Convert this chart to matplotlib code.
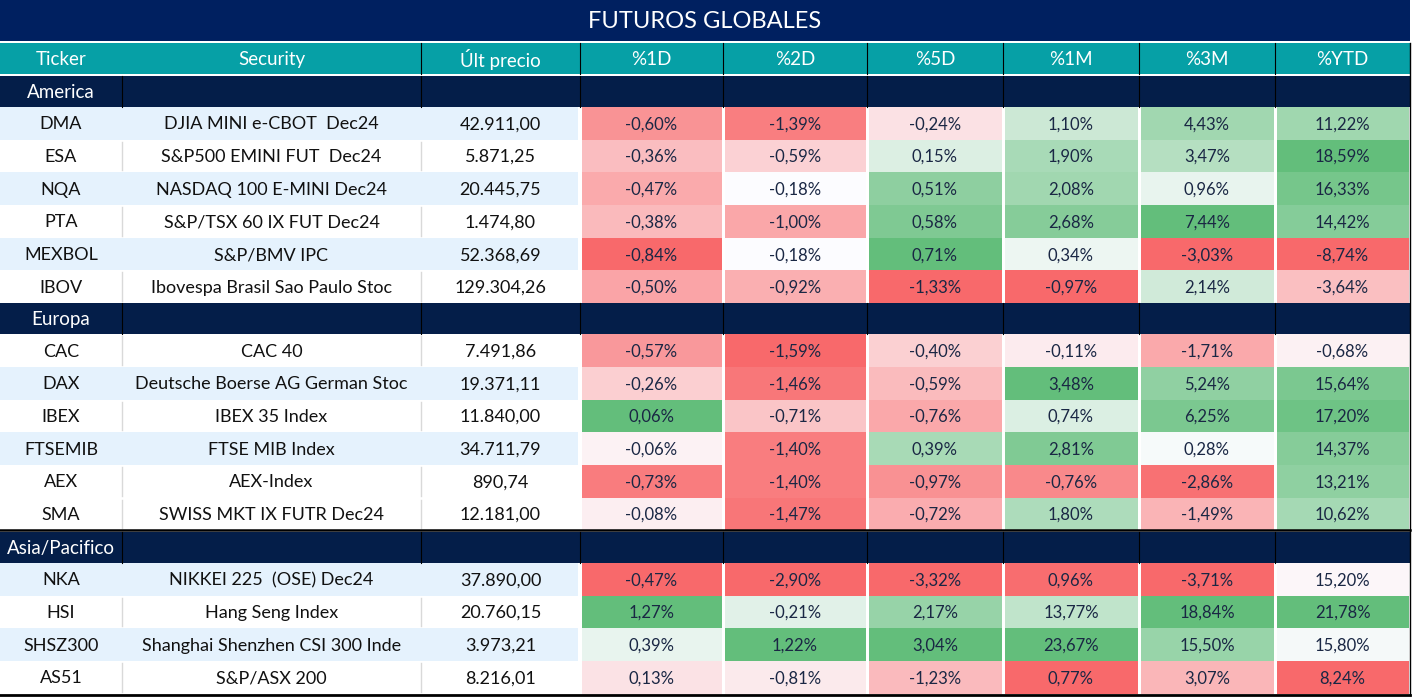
import matplotlib
matplotlib.use("Agg")
import matplotlib.pyplot as plt
from matplotlib.patches import Rectangle
import numpy as np

TITLE = "FUTUROS GLOBALES"
HEADERS = ["Ticker", "Security", "Últ precio", "%1D", "%2D", "%5D", "%1M", "%3M", "%YTD"]
GROUPS = ["America", "Europa", "Asia/Pacifico"]

america_tickers = ["DMA", "ESA", "NQA", "PTA", "MEXBOL", "IBOV"]
america_names = ["DJIA MINI e-CBOT  Dec24", "S&P500 EMINI FUT  Dec24", "NASDAQ 100 E-MINI Dec24",
                 "S&P/TSX 60 IX FUT Dec24", "S&P/BMV IPC", "Ibovespa Brasil Sao Paulo Stoc"]
america_price = [42911.00, 5871.25, 20445.75, 1474.80, 52368.69, 129304.26]
america_chg = [[-0.60, -1.39, -0.24, 1.10, 4.43, 11.22],
               [-0.36, -0.59, 0.15, 1.90, 3.47, 18.59],
               [-0.47, -0.18, 0.51, 2.08, 0.96, 16.33],
               [-0.38, -1.00, 0.58, 2.68, 7.44, 14.42],
               [-0.84, -0.18, 0.71, 0.34, -3.03, -8.74],
               [-0.50, -0.92, -1.33, -0.97, 2.14, -3.64]]

europa_tickers = ["CAC", "DAX", "IBEX", "FTSEMIB", "AEX", "SMA"]
europa_names = ["CAC 40", "Deutsche Boerse AG German Stoc", "IBEX 35 Index",
                "FTSE MIB Index", "AEX-Index", "SWISS MKT IX FUTR Dec24"]
europa_price = [7491.86, 19371.11, 11840.00, 34711.79, 890.74, 12181.00]
europa_chg = [[-0.57, -1.59, -0.40, -0.11, -1.71, -0.68],
              [-0.26, -1.46, -0.59, 3.48, 5.24, 15.64],
              [0.06, -0.71, -0.76, 0.74, 6.25, 17.20],
              [-0.06, -1.40, 0.39, 2.81, 0.28, 14.37],
              [-0.73, -1.40, -0.97, -0.76, -2.86, 13.21],
              [-0.08, -1.47, -0.72, 1.80, -1.49, 10.62]]

asia_tickers = ["NKA", "HSI", "SHSZ300", "AS51"]
asia_names = ["NIKKEI 225  (OSE) Dec24", "Hang Seng Index",
              "Shanghai Shenzhen CSI 300 Inde", "S&P/ASX 200"]
asia_price = [37890.00, 20760.15, 3973.21, 8216.01]
asia_chg = [[-0.47, -2.90, -3.32, 0.96, -3.71, 15.20],
            [1.27, -0.21, 2.17, 13.77, 18.84, 21.78],
            [0.39, 1.22, 3.04, 23.67, 15.50, 15.80],
            [0.13, -0.81, -1.23, 0.77, 3.07, 8.24]]

# filas con fondo celeste
SHADED = ["DMA", "NQA", "MEXBOL", "DAX", "FTSEMIB", "NKA", "SHSZ300"]

# escala de color 3 tonos (tipo Excel) calculada por bloque de grupos
SCALE_BLOCKS = [(["America", "Europa"], "zero"), (["Asia/Pacifico"], "median")]

data = {
    "America": (america_tickers, america_names, america_price, america_chg),
    "Europa": (europa_tickers, europa_names, europa_price, europa_chg),
    "Asia/Pacifico": (asia_tickers, asia_names, asia_price, asia_chg),
}

# --- estilo ---
NAVY = "#002060"
GROUP_BG = "#041E49"
TEAL = "#06A0A6"
ROW_BLUE = "#E5F2FD"
TXT_VAL = "#1A2744"
RED = np.array([248, 105, 107]) / 255
WHITE = np.array([252, 252, 255]) / 255
GREEN = np.array([99, 190, 123]) / 255
FONT = "Lato"

COL_EDGES = [0, 122, 421, 580, 723, 867, 1003, 1139, 1275, 1410]
W, H = 1412, 697
TITLE_H, GAP, HEAD_H, GROUP_H, ROW_H = 41, 2, 31, 31, 32.7


def fmt_num(v, dec=2):
    s = f"{v:,.{dec}f}"
    return s.replace(",", "X").replace(".", ",").replace("X", ".")


def scale_color(v, lo, mid, hi):
    if v <= mid:
        t = 0.0 if mid == lo else (mid - v) / (mid - lo)
        c = WHITE + (RED - WHITE) * min(t, 1)
    else:
        t = 0.0 if hi == mid else (v - mid) / (hi - mid)
        c = WHITE + (GREEN - WHITE) * min(t, 1)
    return tuple(c)


# límites de escala por bloque y columna
limits = {}
for groups, rule in SCALE_BLOCKS:
    vals = np.vstack([np.array(data[g][3]) for g in groups])
    for j in range(vals.shape[1]):
        col = vals[:, j]
        lo, hi = col.min(), col.max()
        mid = float(np.clip(0.0, lo, hi)) if rule == "zero" else float(np.median(col))
        for g in groups:
            limits[(g, j)] = (lo, mid, hi)

fig = plt.figure(figsize=(W / 100, H / 100), dpi=100)
ax = fig.add_axes([0, 0, 1, 1])
ax.set_xlim(0, W)
ax.set_ylim(H, 0)
ax.axis("off")

x0, x1 = COL_EDGES[0], COL_EDGES[-1]
centers = [(a + b) / 2 for a, b in zip(COL_EDGES[:-1], COL_EDGES[1:])]

# título
ax.add_patch(Rectangle((x0, 0), x1 - x0, TITLE_H, color=NAVY, lw=0))
ax.text((x0 + x1) / 2, TITLE_H / 2 + 1, TITLE, color="white", fontsize=17,
        family=FONT, ha="center", va="center")

# encabezado
y = TITLE_H + GAP
ax.add_patch(Rectangle((x0, y), x1 - x0, HEAD_H, color=TEAL, lw=0))
for c, h in zip(centers, HEADERS):
    ax.text(c, y + HEAD_H / 2 + 1, h, color="white", fontsize=13.5, family=FONT,
            ha="center", va="center")
for xe in COL_EDGES[2:-1]:
    ax.plot([xe, xe], [y, y + HEAD_H], color="black", lw=0.8)
y += HEAD_H + GAP

for gi, g in enumerate(GROUPS):
    tickers, names, prices, chg = data[g]
    if gi == 2:
        ax.plot([x0, x1], [y, y], color="black", lw=1.8)
        y += 1.5
    ax.add_patch(Rectangle((x0, y), x1 - x0, GROUP_H, color=GROUP_BG, lw=0))
    ax.text(centers[0], y + GROUP_H / 2 + 1, g, color="white", fontsize=13.5,
            family=FONT, ha="center", va="center")
    for xe in COL_EDGES[1:-1]:
        ax.plot([xe, xe], [y, y + GROUP_H], color="black", lw=0.8)
    y += GROUP_H
    for i, t in enumerate(tickers):
        shaded = t in SHADED
        ax.add_patch(Rectangle((x0, y), COL_EDGES[3] - 2 - x0, ROW_H,
                               color=ROW_BLUE if shaded else "white", lw=0))
        if not shaded:
            for xe in COL_EDGES[1:3]:
                ax.plot([xe, xe], [y + 2, y + ROW_H - 2], color="#D9D9D9", lw=1)
        yc = y + ROW_H / 2 + 1
        ax.text(centers[0], yc, t, fontsize=13, family=FONT, ha="center",
                va="center", color="#111111")
        ax.text(centers[1], yc, names[i], fontsize=13, family=FONT, ha="center",
                va="center", color="#111111")
        ax.text(centers[2], yc, fmt_num(prices[i]), fontsize=13, family=FONT,
                ha="center", va="center", color="#111111")
        for j, v in enumerate(chg[i]):
            a, b = COL_EDGES[3 + j], COL_EDGES[4 + j]
            lo, mid, hi = limits[(g, j)]
            ax.add_patch(Rectangle((a + 1.5, y), b - a - 3, ROW_H,
                                   color=scale_color(v, lo, mid, hi), lw=0))
            ax.text(centers[3 + j], yc, fmt_num(v) + "%", fontsize=12,
                    family=FONT, ha="center", va="center", color=TXT_VAL)
        y += ROW_H

ax.plot([x0, x1], [y + 1, y + 1], color="black", lw=2)
ax.plot([x1, x1], [TITLE_H + GAP, y + 1], color="black", lw=1)

fig.savefig("out.png", dpi=100)
